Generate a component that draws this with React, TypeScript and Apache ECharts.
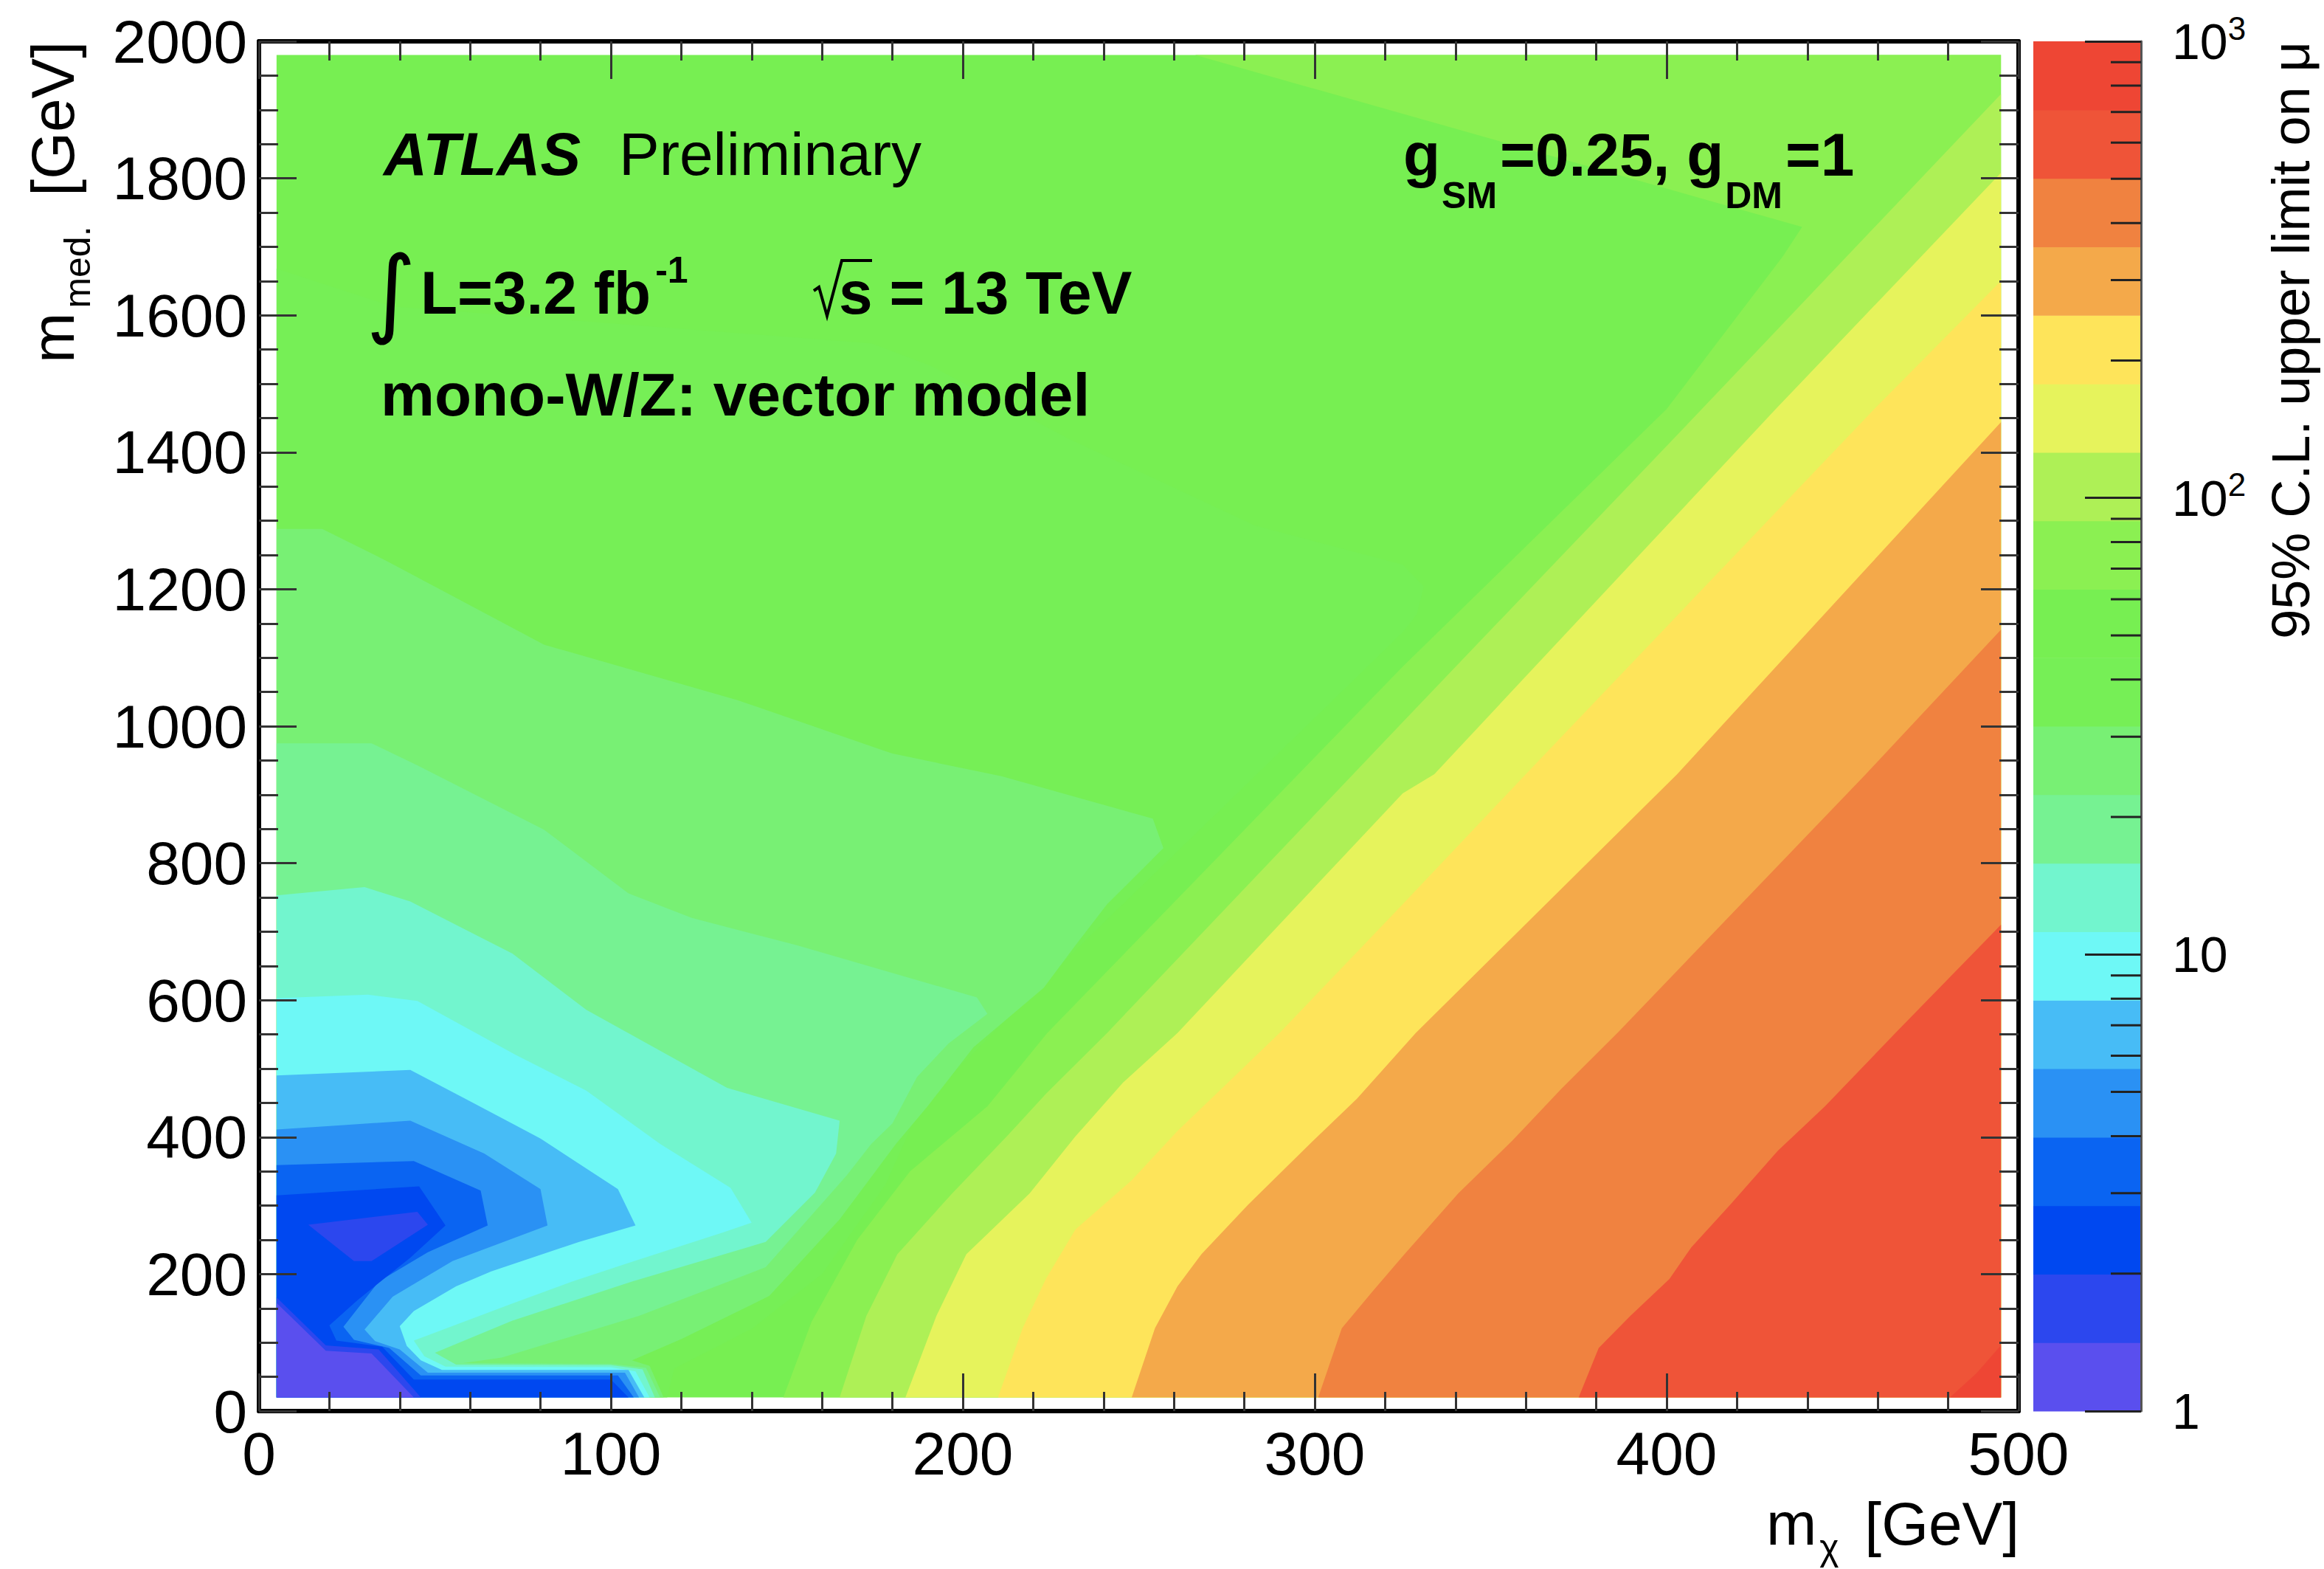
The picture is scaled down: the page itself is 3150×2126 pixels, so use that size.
import React, { useEffect, useRef } from 'react';
import * as echarts from 'echarts';

const FONT = '"Liberation Sans", Arial, Helvetica, sans-serif';

// ---------------- data ----------------
// 20 contour levels of the 95% CL upper limit on mu (log spaced, 0.15 decade)
const CONTOUR_LEVELS = [1, 1.413, 1.995, 2.818, 3.981, 5.623, 7.943, 11.22, 15.85, 22.39, 31.62, 44.67, 63.1, 89.13, 125.9, 177.8, 251.2, 354.8, 501.2, 707.9, 1000];
const BAND_COLORS = [
  '#5A4FEE', '#2C47EE', '#0048F0', '#0A64F2', '#2A91F4',
  '#47BCF6', '#6EF8F6', '#72F5CE', '#76F292', '#78F074',
  '#76EF56', '#77EF52', '#8BF052', '#AEF056', '#E6F35C',
  '#FEE45A', '#F4A94A', '#F08240', '#EF5438', '#EE4634',
];
const COLORBAR_MINOR_TICKS = [2, 3, 4, 5, 6, 7, 8, 9, 20, 30, 40, 50, 60, 70, 80, 90, 200, 300, 400, 500, 600, 700, 800, 900];

// contour regions, [m_chi GeV, m_med GeV]
const dataArea = [[5, 20], [495, 20], [495, 1980], [5, 1980]];
// regions where mu is below a level (low-mass corner)
const muBelow44 = [[5, 20], [5, 1668], [38, 1613], [174, 1559], [191, 1526], [230, 1420], [283, 1293], [325, 1236], [331, 1204], [329, 1163], [325, 1137], [272, 872], [232, 673], [188, 445], [178, 330], [160, 200], [140, 120], [118, 62], [116, 20]];
const muBelow32 = [[5, 20], [5, 1288], [18, 1288], [36, 1242], [81, 1119], [136, 1038], [180, 960], [211, 927], [254, 865], [257, 822], [241, 740], [232, 680], [223, 618], [203, 531], [190, 445], [181, 390], [165, 280], [145, 168], [120, 105], [106, 74], [111, 66], [115, 20]];
const muBelow22 = [[5, 20], [5, 975], [32, 975], [45, 943], [81, 849], [105, 756], [123, 720], [153, 680], [204, 604], [207, 580], [196, 537], [187, 488], [180, 420], [174, 390], [167, 344], [144, 210], [108, 139], [69, 78], [58, 70], [100, 69], [110, 63], [114, 20]];
const muBelow16 = [[5, 20], [5, 753], [30, 765], [43, 744], [72, 668], [93, 586], [133, 472], [165, 424], [164, 376], [158, 319], [144, 247], [106, 189], [72, 132], [50, 85], [56, 68], [100, 67], [109, 61], [112.5, 20]];
const muBelow11 = [[5, 20], [5, 603], [31, 608], [45, 599], [73, 520], [93, 468], [114, 390], [134, 326], [140, 275], [132, 261], [106, 218], [89, 189], [72, 157], [44, 103], [47, 80], [53, 65], [100, 64], [107, 58], [111, 20]];
const muBelow8 = [[5, 20], [5, 490], [43, 498], [59, 455], [80, 398], [102, 324], [107, 271], [91, 247], [66, 204], [56, 182], [44, 146], [40, 124], [42, 95], [46, 74], [52, 60], [105, 60], [109.5, 20]];
const muBelow5p6 = [[5, 20], [5, 411], [43, 424], [64, 376], [80, 324], [82, 271], [55, 219], [38, 167], [30, 119], [33, 102], [40, 90], [48, 56], [104, 56], [108, 20]];
const muBelow4 = [[5, 20], [5, 359], [44, 365], [63, 322], [65, 271], [48, 232], [34, 189], [24, 123], [27, 104], [37, 92], [46, 52], [102, 52], [106.5, 20]];
const muBelow2p8 = [[5, 20], [5, 315], [45.5, 328], [53, 271], [43, 224], [28, 162], [20, 125], [22, 103], [35, 94], [44, 46], [100, 46], [105, 20]];
const muBelow2 = [[5, 20], [5, 166], [19, 96], [34, 90], [46, 20]];
const muBelow2Island = [[14, 272], [45, 291], [48, 272], [32, 219], [27, 219]];
const muBelow1p4 = [[5, 20], [5, 158], [19, 88], [32, 84], [44, 20]];
// regions where mu is above a level (diagonal bands)
const muAbove63 = [[149, 20], [157, 130], [170, 250], [185, 350], [207, 445], [224, 552], [325, 1087], [400, 1463], [433, 1686], [438.5, 1729], [266, 1980], [495, 1980], [495, 20]];
const muAbove89 = [[165, 20], [172.6, 139], [181.4, 229], [197, 318], [212.5, 401], [223.6, 463], [241, 552], [325, 1006], [410, 1463], [495, 1923], [495, 20]];
const muAbove126 = [[183.7, 20], [192.5, 139], [201, 229], [219, 318], [232, 401], [245.6, 480], [261, 552], [325, 902], [334, 930], [431, 1463], [495, 1808], [495, 20]];
const muAbove178 = [[210, 20], [217, 121], [223.6, 193], [232, 265], [248, 337], [261, 409], [272, 463], [290, 552], [325, 740], [360, 930], [459, 1463], [495, 1650], [495, 20]];
const muAbove251 = [[248, 20], [254.6, 121], [261, 182], [267.8, 229], [281, 301], [299, 392], [312, 456], [328.7, 552], [403, 930], [495, 1444], [495, 20]];
const muAbove355 = [[301, 20], [307.7, 121], [316.5, 175], [325.5, 229], [340.8, 318], [356, 394], [370, 470], [386, 552], [456.6, 930], [495, 1141], [495, 20]];
const muAbove501 = [[375, 20], [380.7, 92], [389.7, 139], [400.8, 193], [407, 239], [418, 301], [431.6, 380], [445, 445], [465, 552], [495, 710], [495, 20]];
const muAbove708 = [[480.5, 20], [488, 55], [495, 96], [495, 20]];

const REGIONS = [
  { band: 11, pts: dataArea },
  { band: 10, pts: muBelow44 },
  { band: 9, pts: muBelow32 },
  { band: 8, pts: muBelow22 },
  { band: 7, pts: muBelow16 },
  { band: 6, pts: muBelow11 },
  { band: 5, pts: muBelow8 },
  { band: 4, pts: muBelow5p6 },
  { band: 3, pts: muBelow4 },
  { band: 2, pts: muBelow2p8 },
  { band: 1, pts: muBelow2 },
  { band: 1, pts: muBelow2Island },
  { band: 0, pts: muBelow1p4 },
  { band: 12, pts: muAbove63 },
  { band: 13, pts: muAbove89 },
  { band: 14, pts: muAbove126 },
  { band: 15, pts: muAbove178 },
  { band: 16, pts: muAbove251 },
  { band: 17, pts: muAbove355 },
  { band: 18, pts: muAbove501 },
  { band: 19, pts: muAbove708 },
];

// ---------------- helpers ----------------
let measureCtx: CanvasRenderingContext2D | null = null;
function measure(text: string, size: number, weight = 'normal', style = 'normal') {
  if (!measureCtx) measureCtx = document.createElement('canvas').getContext('2d');
  measureCtx!.font = `${style} ${weight} ${size}px "Liberation Sans"`;
  return measureCtx!.measureText(text).width;
}

function txt(text: string, x: number, baseline: number, size: number, weight = 'normal', style = 'normal', align = 'left', family = FONT) {
  return {
    type: 'text',
    x,
    y: baseline - 0.347 * size,
    z: 100,
    silent: true,
    style: {
      text,
      fontSize: size,
      fontFamily: family,
      fontWeight: weight,
      fontStyle: style,
      fill: '#000',
      align,
      verticalAlign: 'middle',
      textAlign: align,
      textVerticalAlign: 'middle',
    },
  };
}

function buildGraphic() {
  const els: any[] = [];
  // ATLAS Preliminary
  els.push(txt('ATLAS', 520, 237, 82, 'bold', 'italic'));
  els.push(txt('Preliminary', 839, 237, 82));
  // integral L
  els.push(txt('\u222B', 530, 440, 130, 'normal', 'normal', 'center', '"DejaVu Sans", sans-serif'));
  els.push(txt('L=3.2 fb', 570, 425, 82, 'bold'));
  const wL = measure('L=3.2 fb', 82, 'bold');
  els.push(txt('-1', 570 + wL + 6, 383, 50, 'bold'));
  // sqrt s
  els.push({
    type: 'polyline', z: 100, silent: true,
    shape: { points: [[1103, 394], [1110, 389], [1121, 428], [1141, 353], [1182, 353]] },
    style: { stroke: '#000', lineWidth: 4, fill: null },
  });
  els.push(txt('s = 13 TeV', 1137, 425, 82, 'bold'));
  els.push(txt('mono-W/Z: vector model', 516, 563, 82, 'bold'));
  // couplings
  let x = 1902;
  const parts: [string, number, number][] = [['g', 82, 238], ['SM', 50, 282], ['=0.25, g', 82, 238], ['DM', 50, 282], ['=1', 82, 238]];
  parts.forEach(([t, s, b], i) => {
    els.push(txt(t, x, b, s, 'bold'));
    x += measure(t, s, 'bold') + (i % 2 === 0 ? 2 : 4);
  });
  // x axis title (right aligned at frame end)
  const xm = measure('m', 82), xc = measure('\u03C7', 50), xg = measure(' [GeV]', 82);
  const xStart = 2737 - (xm + 4 + xc + 12 + xg);
  els.push(txt('m', xStart, 2093, 82));
  els.push(txt('\u03C7', xStart + xm + 4, 2114, 50));
  els.push(txt(' [GeV]', xStart + xm + 4 + xc + 12, 2093, 82));
  // y axis title (rotated)
  const ym = measure('m', 82), yd = measure('med.', 50), yg = measure(' [GeV]', 82);
  const total = ym + 6 + yd + 18 + yg;
  els.push({
    type: 'group', x: 100, y: 56, rotation: Math.PI / 2, z: 100, silent: true,
    children: [
      txt('m', -total, 0, 82),
      txt('med.', -total + ym + 6, 22, 50),
      txt(' [GeV]', -total + ym + 6 + yd + 18, 0, 82),
    ],
  });
  // colour bar title
  els.push({
    type: 'group', x: 3130, y: 56, rotation: Math.PI / 2, z: 100, silent: true,
    children: [txt('95% C.L. upper limit on \u03BC', 0, 0, 72, 'normal', 'normal', 'right')],
  });
  return els;
}

function buildOption() {
  const tickStyle = { color: '#333', width: 3 };
  const frame = { show: true, onZero: false, lineStyle: { color: '#000', width: 6 } };
  const mainX = (position: string, showLabel: boolean) => ({
    gridIndex: 0, type: 'value', min: 0, max: 500, interval: 100, position, z: 5,
    axisLine: frame,
    axisTick: { show: true, inside: true, length: 51, lineStyle: tickStyle },
    minorTick: { show: true, splitNumber: 5, length: 26, lineStyle: tickStyle },
    splitLine: { show: false },
    minorSplitLine: { show: false },
    axisLabel: { show: showLabel, margin: 16, fontSize: 82, fontFamily: FONT, color: '#000', formatter: (v: number) => String(v) },
  });
  const mainY = (position: string, showLabel: boolean) => ({
    gridIndex: 0, type: 'value', min: 0, max: 2000, interval: 200, position, z: 5,
    axisLine: frame,
    axisTick: { show: true, inside: true, length: 51, lineStyle: tickStyle },
    minorTick: { show: true, splitNumber: 4, length: 26, lineStyle: tickStyle },
    splitLine: { show: false },
    minorSplitLine: { show: false },
    axisLabel: { show: showLabel, margin: 16, fontSize: 82, fontFamily: FONT, color: '#000', formatter: (v: number) => String(v) },
  });

  return {
    animation: false,
    backgroundColor: '#ffffff',
    grid: [
      { left: 351, top: 56, width: 2385, height: 1856 },
      { left: 2756, top: 56, width: 146, height: 1856 },
    ],
    xAxis: [
      mainX('bottom', true),
      mainX('top', false),
      { gridIndex: 1, type: 'value', min: 0, max: 1, show: false },
    ],
    yAxis: [
      mainY('left', true),
      mainY('right', false),
      {
        gridIndex: 1, type: 'log', logBase: 10, min: 1, max: 1000, position: 'right', z: 5,
        axisLine: { show: true, onZero: false, lineStyle: { color: '#555', width: 3 } },
        axisTick: { show: true, inside: true, length: 76, lineStyle: { color: '#222', width: 3 } },
        splitLine: { show: false },
        axisLabel: {
          margin: 42, fontSize: 68, fontFamily: FONT, color: '#000', lineHeight: 80,
          formatter: (v: number) => {
            const e = Math.round(Math.log10(v));
            if (e === 0) return '1';
            if (e === 1) return '10';
            return '10{s|' + e + '}';
          },
          rich: { s: { fontSize: 44, fontFamily: FONT, color: '#000', verticalAlign: 'top', lineHeight: 44 } },
        },
      },
    ],
    series: [
      {
        type: 'custom', xAxisIndex: 0, yAxisIndex: 0, silent: true, z: 2, clip: true,
        data: REGIONS.map(() => [250, 1000]),
        encode: { x: 0, y: 1 },
        renderItem: (params: any, api: any) => {
          const region = REGIONS[params.dataIndex];
          const points = region.pts.map((p) => api.coord(p));
          return { type: 'polygon', shape: { points }, style: { fill: BAND_COLORS[region.band] } };
        },
      },
      {
        type: 'custom', xAxisIndex: 2, yAxisIndex: 2, silent: true, z: 2,
        data: BAND_COLORS.map((_, k) => [0.5, CONTOUR_LEVELS[k]]),
        encode: { x: 0, y: 1 },
        renderItem: (params: any, api: any) => {
          const k = params.dataIndex;
          const p0 = api.coord([0, CONTOUR_LEVELS[k]]);
          const p1 = api.coord([1, CONTOUR_LEVELS[k + 1]]);
          return {
            type: 'rect',
            shape: { x: p0[0], y: p1[1], width: p1[0] - p0[0], height: p0[1] - p1[1] + 0.6 },
            style: { fill: BAND_COLORS[k] },
          };
        },
      },
      {
        type: 'custom', xAxisIndex: 2, yAxisIndex: 2, silent: true, z: 6,
        data: COLORBAR_MINOR_TICKS.map((v) => [1, v]),
        encode: { x: 0, y: 1 },
        renderItem: (params: any, api: any) => {
          const p = api.coord([1, api.value(1)]);
          return {
            type: 'line',
            shape: { x1: p[0] - 41, y1: p[1], x2: p[0], y2: p[1] },
            style: { stroke: '#222', lineWidth: 3 },
          };
        },
      },
    ],
    graphic: { elements: buildGraphic() },
  };
}

export default function App() {
  const ref = useRef<HTMLDivElement>(null);
  useEffect(() => {
    const chart = echarts.init(ref.current!, undefined, { renderer: 'svg' });
    chart.setOption(buildOption() as any);
    return () => chart.dispose();
  }, []);
  return (
    <div
      ref={ref}
      style={{ position: 'absolute', left: 0, top: 0, width: 3150, height: 2126, background: '#fff' }}
    />
  );
}
